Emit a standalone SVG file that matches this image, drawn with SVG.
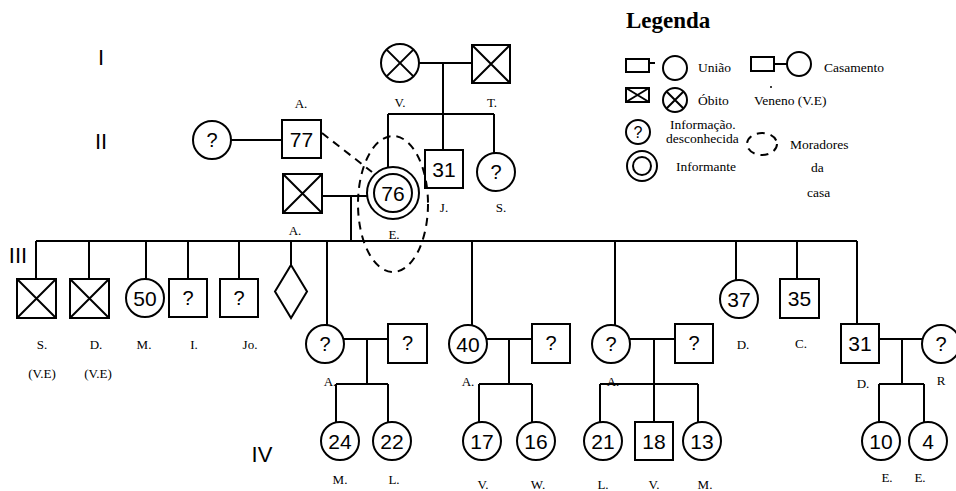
<svg xmlns="http://www.w3.org/2000/svg" width="956" height="491" viewBox="0 0 956 491">
<style>
.n{fill:#fff;stroke:#000;stroke-width:2}
.l{fill:none;stroke:#000;stroke-width:2}
.d{fill:none;stroke:#000;stroke-width:2;stroke-dasharray:8 6}
.num{font-family:"Liberation Sans",Arial,sans-serif;font-size:21px;text-anchor:middle;fill:#000}
.q{font-family:"Liberation Sans",Arial,sans-serif;font-size:20px;text-anchor:middle;fill:#000}
.lab{font-family:"Liberation Serif","Times New Roman",serif;font-size:13px;text-anchor:middle;fill:#000}
.gen{font-family:"Liberation Sans",Arial,sans-serif;font-size:22px;text-anchor:middle;fill:#000}
.lg{font-family:"Liberation Serif","Times New Roman",serif;font-size:13.5px;fill:#000}
</style>
<rect width="956" height="491" fill="#fff"/>

<g id="generations">
<text class="gen" x="101" y="65">I</text>
<text class="gen" x="101" y="149">II</text>
<text class="gen" x="18" y="263">III</text>
<text class="gen" x="262" y="462">IV</text>
</g>

<g id="connectors">
<path class="l" d="M419,63H472 M443,63V150 M388,114H494 M388,114V167 M494,114V153"/>
<path class="l" d="M231,140H282"/>
<path class="d" d="M322,133L372,172"/>
<path class="l" d="M322,196H367 M351,196V241"/>
<path class="l" d="M36,241H857"/>
<path class="l" d="M36,241V279 M89,241V279 M146,241V279 M188,241V279 M239,241V279 M291,241V265"/>
<path class="l" d="M327,241V325 M344,339H388 M367,339V384 M336,384H388 M336,384V422 M388,384V422"/>
<path class="l" d="M472,241V325 M487,339H532 M509,339V384 M479,384H532 M479,384V422 M532,384V422"/>
<path class="l" d="M615,241V325 M630,339H675 M654,339V422 M600,384H698 M600,384V422 M698,384V422"/>
<path class="l" d="M736,241V280 M797,241V279 M857,241V324"/>
<path class="l" d="M879,339H922 M902,339V384 M879,384H924 M879,384V422 M924,384V422"/>
</g>

<g id="I-V">
<circle class="n" cx="400" cy="63" r="19"/>
<path class="l" d="M386.6,49.6L413.4,76.4M413.4,49.6L386.6,76.4"/>
<text class="lab" x="400" y="107">V.</text>
</g>
<g id="I-T">
<rect class="n" x="472" y="45" width="38" height="38"/>
<path class="l" d="M472,45L510,83M510,45L472,83"/>
<text class="lab" x="492" y="107">T.</text>
</g>

<g id="II-unknown">
<circle class="n" cx="212" cy="140" r="19"/>
<text class="q" x="212" y="147">?</text>
</g>
<g id="II-A77">
<rect class="n" x="282" y="120" width="39" height="38"/>
<text class="num" x="301.5" y="146.5">77</text>
<text class="lab" x="301" y="108">A.</text>
</g>
<g id="II-A">
<rect class="n" x="283" y="174" width="39" height="39"/>
<path class="l" d="M283,174L322,213M322,174L283,213"/>
<text class="lab" x="295" y="235">A.</text>
</g>
<g id="II-E76">
<circle class="n" cx="393" cy="193" r="26"/>
<circle class="n" cx="393" cy="193" r="19"/>
<text class="num" x="393" y="200.5">76</text>
<text class="lab" x="394" y="239">E.</text>
</g>
<g id="II-J31">
<rect class="n" x="425" y="150" width="38" height="38"/>
<text class="num" x="444" y="176.5">31</text>
<text class="lab" x="444" y="212">J.</text>
</g>
<g id="II-S">
<circle class="n" cx="496" cy="172" r="19"/>
<text class="q" x="496" y="179">?</text>
<text class="lab" x="501" y="212">S.</text>
</g>
<g id="household">
<ellipse class="d" cx="393" cy="204" rx="35" ry="68"/>
</g>

<g id="III-S">
<rect class="n" x="17" y="279" width="39" height="39"/>
<path class="l" d="M17,279L56,318M56,279L17,318"/>
<text class="lab" x="42" y="349">S.</text>
<text class="lab" x="42" y="378">(V.E)</text>
</g>
<g id="III-D">
<rect class="n" x="70" y="279" width="39" height="39"/>
<path class="l" d="M70,279L109,318M109,279L70,318"/>
<text class="lab" x="96" y="349">D.</text>
<text class="lab" x="98" y="378">(V.E)</text>
</g>
<g id="III-M50">
<circle class="n" cx="145" cy="298" r="19"/>
<text class="num" x="145" y="305.5">50</text>
<text class="lab" x="144" y="349">M.</text>
</g>
<g id="III-I">
<rect class="n" x="169" y="279" width="38" height="38"/>
<text class="q" x="188" y="305">?</text>
<text class="lab" x="194" y="349">I.</text>
</g>
<g id="III-Jo">
<rect class="n" x="220" y="279" width="38" height="38"/>
<text class="q" x="239" y="305">?</text>
<text class="lab" x="250" y="349">Jo.</text>
</g>
<g id="III-diamond">
<path class="n" d="M291,265L307,291.5L291,318L275,291.5Z"/>
</g>

<g id="III-A1">
<circle class="n" cx="325" cy="344" r="19"/>
<text class="q" x="325" y="351">?</text>
<text class="lab" x="330" y="386">A.</text>
</g>
<g id="III-A1-spouse">
<rect class="n" x="388" y="324" width="39" height="39"/>
<text class="q" x="407.5" y="350">?</text>
</g>
<g id="IV-M24">
<circle class="n" cx="340" cy="441" r="19"/>
<text class="num" x="340" y="448.5">24</text>
<text class="lab" x="340" y="484">M.</text>
</g>
<g id="IV-L22">
<circle class="n" cx="392" cy="441" r="19"/>
<text class="num" x="392" y="448.5">22</text>
<text class="lab" x="394" y="484">L.</text>
</g>

<g id="III-A40">
<circle class="n" cx="468" cy="344" r="19"/>
<text class="num" x="468" y="351.5">40</text>
<text class="lab" x="468" y="386">A.</text>
</g>
<g id="III-A40-spouse">
<rect class="n" x="532" y="324" width="38" height="39"/>
<text class="q" x="551" y="350">?</text>
</g>
<g id="IV-V17">
<circle class="n" cx="482" cy="441" r="19"/>
<text class="num" x="482" y="448.5">17</text>
<text class="lab" x="483" y="489">V.</text>
</g>
<g id="IV-W16">
<circle class="n" cx="536" cy="441" r="19"/>
<text class="num" x="536" y="448.5">16</text>
<text class="lab" x="538" y="489">W.</text>
</g>

<g id="III-A3">
<circle class="n" cx="611" cy="344" r="19"/>
<text class="q" x="611" y="351">?</text>
<text class="lab" x="613" y="386">A.</text>
</g>
<g id="III-A3-spouse">
<rect class="n" x="675" y="324" width="38" height="39"/>
<text class="q" x="694" y="350">?</text>
</g>
<g id="IV-L21">
<circle class="n" cx="603" cy="441" r="19"/>
<text class="num" x="603" y="448.5">21</text>
<text class="lab" x="603" y="489">L.</text>
</g>
<g id="IV-V18">
<rect class="n" x="635" y="422" width="38" height="38"/>
<text class="num" x="654" y="448.5">18</text>
<text class="lab" x="654" y="489">V.</text>
</g>
<g id="IV-M13">
<circle class="n" cx="702" cy="441" r="19"/>
<text class="num" x="702" y="448.5">13</text>
<text class="lab" x="705" y="489">M.</text>
</g>

<g id="III-D37">
<circle class="n" cx="739" cy="299" r="19"/>
<text class="num" x="739" y="306.5">37</text>
<text class="lab" x="743" y="349">D.</text>
</g>
<g id="III-C35">
<rect class="n" x="780" y="279" width="39" height="39"/>
<text class="num" x="799.5" y="305.5">35</text>
<text class="lab" x="801" y="348">C.</text>
</g>
<g id="III-D31">
<rect class="n" x="841" y="324" width="38" height="39"/>
<text class="num" x="860" y="350.5">31</text>
<text class="lab" x="863" y="388">D.</text>
</g>
<g id="III-R">
<circle class="n" cx="941" cy="344" r="19"/>
<text class="q" x="941" y="351">?</text>
<text class="lab" x="941" y="385">R</text>
</g>
<g id="IV-E10">
<circle class="n" cx="881" cy="441" r="19"/>
<text class="num" x="881" y="448.5">10</text>
<text class="lab" x="887" y="482">E.</text>
</g>
<g id="IV-E4">
<circle class="n" cx="928" cy="441" r="19"/>
<text class="num" x="928" y="448.5">4</text>
<text class="lab" x="920" y="482">E.</text>
</g>

<g id="legend">
<text x="626" y="28" font-family="'Liberation Serif','Times New Roman',serif" font-size="23" font-weight="bold">Legenda</text>
<rect class="n" x="626" y="59" width="23" height="13"/>
<path class="l" d="M649,63H655"/>
<circle class="n" cx="675" cy="68" r="12"/>
<text class="lg" x="698" y="72">União</text>
<rect class="n" x="751" y="57" width="23" height="14"/>
<path class="l" d="M774,64H788"/>
<circle class="n" cx="799" cy="64" r="12"/>
<text class="lg" x="824" y="72">Casamento</text>
<rect class="n" x="626" y="88" width="23" height="14"/>
<path class="l" d="M626,88L649,102M649,88L626,102"/>
<circle class="n" cx="675" cy="100" r="12"/>
<path class="l" d="M666.5,91.5L683.5,108.5M683.5,91.5L666.5,108.5"/>
<text class="lg" x="698" y="105">Óbito</text>
<circle cx="771" cy="87" r="1" fill="#000"/>
<text class="lg" x="754" y="105">Veneno (V.E)</text>
<circle class="n" cx="638" cy="132" r="12"/>
<text x="638" y="138" font-family="'Liberation Sans',Arial,sans-serif" font-size="16" text-anchor="middle">?</text>
<text class="lg" x="670" y="129">Informação.</text>
<text class="lg" x="666" y="143">desconhecida</text>
<ellipse class="d" cx="762" cy="144" rx="15" ry="11" stroke-dasharray="6 5"/>
<text class="lg" x="790" y="149">Moradores</text>
<circle class="n" cx="642" cy="166" r="15"/>
<circle class="n" cx="642" cy="166" r="9"/>
<text class="lg" x="676" y="171">Informante</text>
<text class="lg" x="811" y="172">da</text>
<text class="lg" x="807" y="197">casa</text>
</g>
</svg>
